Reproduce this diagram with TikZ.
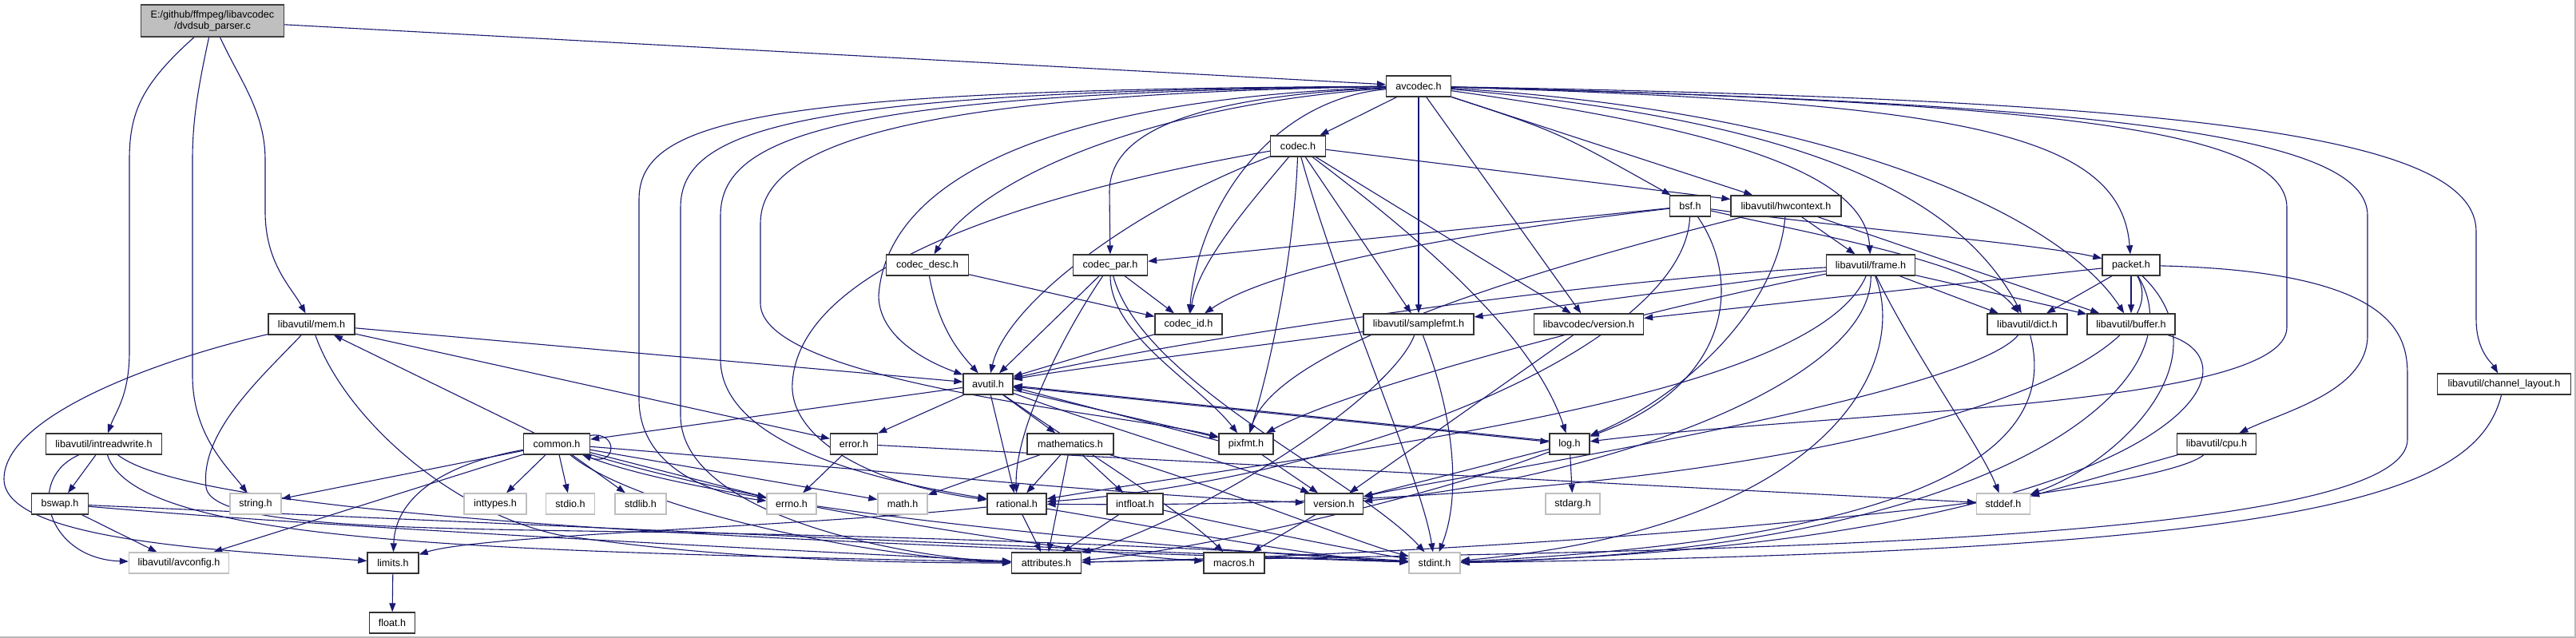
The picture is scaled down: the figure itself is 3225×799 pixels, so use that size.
\documentclass[tikz,border=0pt]{standalone}
\usepackage{fontspec}
\setmainfont{Liberation Sans}
\usetikzlibrary{arrows.meta}
\definecolor{edgecol}{HTML}{191970}
\definecolor{extcol}{HTML}{BFBFBF}
\definecolor{maincol}{HTML}{BFBFBF}
\pgfdeclarelayer{bg}
\pgfsetlayers{bg,main}
\begin{document}
\begin{tikzpicture}[x=1pt,y=-1pt,
  box/.style={draw=black!80, fill=white, line width=1.3pt, inner sep=0pt, minimum height=26pt,
     font=\fontsize{12.6}{14.5}\selectfont},
  docbox/.style={box},
  extbox/.style={box, draw=extcol},
  mainbox/.style={box, fill=maincol, draw=black!75, minimum height=40pt, align=center},
  edge/.style={draw=edgecol, line width=1.1pt, -{Triangle[length=11pt,width=8pt]}}]
\useasboundingbox (0,0) rectangle (3225,799);

% nodes
\node[mainbox, minimum width=179pt] (main) at (266,26) {E:/github/ffmpeg/libavcodec\\/dvdsub\_parser.c};
\node[docbox, minimum width=81pt] (avcodec) at (1776,108) {avcodec.h};
\node[docbox, minimum width=69pt] (codec) at (1625,183) {codec.h};
\node[docbox, minimum width=51pt] (bsf) at (2116,258) {bsf.h};
\node[docbox, minimum width=138pt] (hwcontext) at (2236,258) {libavutil/hwcontext.h};
\node[docbox, minimum width=103pt] (codecdesc) at (1161,332) {codec\_desc.h};
\node[docbox, minimum width=93pt] (codecpar) at (1390,332) {codec\_par.h};
\node[docbox, minimum width=111pt] (frame) at (2342,332) {libavutil/frame.h};
\node[docbox, minimum width=72pt] (packet) at (2668,332) {packet.h};
\node[docbox, minimum width=108pt] (mem) at (390,406) {libavutil/mem.h};
\node[docbox, minimum width=84pt] (codecid) at (1488,406) {codec\_id.h};
\node[docbox, minimum width=138pt] (samplefmt) at (1776,406) {libavutil/samplefmt.h};
\node[docbox, minimum width=137pt] (lavcver) at (1989,406) {libavcodec/version.h};
\node[docbox, minimum width=100pt] (dict) at (2538,406) {libavutil/dict.h};
\node[docbox, minimum width=110pt] (buffer) at (2668,406) {libavutil/buffer.h};
\node[docbox, minimum width=62pt] (avutil) at (1237,481) {avutil.h};
\node[docbox, minimum width=167pt] (chlayout) at (3135,481) {libavutil/channel\_layout.h};
\node[docbox, minimum width=145pt] (intreadwrite) at (130,556) {libavutil/intreadwrite.h};
\node[docbox, minimum width=83pt] (common) at (697,556) {common.h};
\node[docbox, minimum width=59pt] (error) at (1069,556) {error.h};
\node[docbox, minimum width=108pt] (mathematics) at (1340,556) {mathematics.h};
\node[docbox, minimum width=68pt] (pixfmt) at (1560,556) {pixfmt.h};
\node[docbox, minimum width=50pt] (log) at (1965,556) {log.h};
\node[docbox, minimum width=99pt] (cpu) at (2775,556) {libavutil/cpu.h};
\node[docbox, minimum width=71pt] (bswap) at (75,631) {bswap.h};
\node[extbox, minimum width=64pt] (string) at (320,631) {string.h};
\node[extbox, minimum width=78pt] (inttypes) at (620,631) {inttypes.h};
\node[extbox, minimum width=61pt] (stdio) at (714,631) {stdio.h};
\node[extbox, minimum width=64pt] (stdlib) at (802,631) {stdlib.h};
\node[extbox, minimum width=62pt] (errno) at (991,631) {errno.h};
\node[extbox, minimum width=62pt] (math) at (1130,631) {math.h};
\node[docbox, minimum width=74pt] (rational) at (1273,631) {rational.h};
\node[docbox, minimum width=70pt] (intfloat) at (1421,631) {intfloat.h};
\node[docbox, minimum width=73pt] (version) at (1670,631) {version.h};
\node[extbox, minimum width=68pt] (stdarg) at (1969,631) {stdarg.h};
\node[extbox, minimum width=67pt] (stddef) at (2508,631) {stddef.h};
\node[extbox, minimum width=125pt] (avconfig) at (224,705) {libavutil/avconfig.h};
\node[docbox, minimum width=64pt] (limits) at (492,705) {limits.h};
\node[docbox, minimum width=87pt] (attributes) at (1310,705) {attributes.h};
\node[docbox, minimum width=76pt] (macros) at (1545,705) {macros.h};
\node[extbox, minimum width=64pt] (stdint) at (1796,705) {stdint.h};
\node[docbox, minimum width=57pt] (float) at (491,780) {float.h};

\begin{pgfonlayer}{bg}
\fill[white] (0,0) rectangle (3225,799);
\draw[gray!55, line width=1.6pt] (0,798.2) -- (3224.2,798.2) -- (3224.2,0);
% main
\draw[edge] (main) -- (avcodec);
\draw[edge] (main) .. controls (178,105) and (162,140) .. (162,200) -- (162,440) .. controls (162,495) and (145,515) .. (intreadwrite);
\draw[edge] (main) .. controls (248,110) and (241,150) .. (241,200) -- (241,470) .. controls (241,545) and (285,585) .. (string);
\draw[edge] (main) .. controls (300,100) and (332,140) .. (332,200) -- (332,265) .. controls (332,330) and (365,360) .. (mem);
% avcodec
\draw[edge] (avcodec) -- (codec);
\draw[edge] (avcodec) -- (samplefmt);
\draw[edge] (avcodec) -- (lavcver);
\draw[edge] (avcodec) .. controls (1950,165) .. (bsf);
\draw[edge] (avcodec) -- (hwcontext);
\draw[edge] (avcodec) .. controls (2150,160) and (2335,215) .. (frame);
\draw[edge] (avcodec) .. controls (2450,128) and (2655,165) .. (packet);
\draw[edge] (avcodec) .. controls (2250,150) and (2450,240) .. (dict);
\draw[edge] (avcodec) .. controls (2300,140) and (2580,270) .. (buffer);
\draw[edge] (avcodec) .. controls (2550,128) and (2863,160) .. (2863,260) -- (2863,410) .. controls (2863,510) and (2300,515) .. (log);
\draw[edge] (avcodec) .. controls (2650,130) and (2964,170) .. (2964,270) -- (2964,420) .. controls (2964,490) and (2860,515) .. (cpu);
\draw[edge] (avcodec) .. controls (2750,125) and (3100,170) .. (3100,290) -- (3100,400) .. controls (3100,440) and (3120,455) .. (chlayout);
\draw[edge] (avcodec) .. controls (950,112) and (800,150) .. (800,250) -- (800,500) .. controls (800,590) and (900,620) .. (errno);
\draw[edge] (avcodec) .. controls (1000,114) and (852,160) .. (852,260) -- (852,520) .. controls (852,650) and (1150,700) .. (attributes);
\draw[edge] (avcodec) .. controls (1050,116) and (902,170) .. (902,270) -- (902,450) .. controls (902,570) and (1150,610) .. (rational);
\draw[edge] (avcodec) .. controls (1100,118) and (952,190) .. (952,280) -- (952,380) .. controls (952,480) and (1420,520) .. (pixfmt);
\draw[edge] (avcodec) .. controls (1450,130) and (1230,220) .. (codecdesc);
\draw[edge] (avcodec) .. controls (1480,122) and (1389,170) .. (1389,240) -- (codecpar);
\draw[edge] (avcodec) .. controls (1590,125) and (1500,260) .. (codecid);
\draw[edge] (avcodec) .. controls (1300,125) and (1110,230) .. (1100,370) .. controls (1100,430) and (1180,460) .. (avutil);
% codec
\draw[edge] (codec) -- (hwcontext);
\draw[edge] (codec) .. controls (1560,260) and (1500,330) .. (codecid);
\draw[edge] (codec) .. controls (1420,260) and (1260,380) .. (avutil);
\draw[edge] (codec) .. controls (1620,320) and (1590,460) .. (pixfmt);
\draw[edge] (codec) .. controls (1300,240) and (1000,330) .. (992,480) .. controls (988,545) and (1080,605) .. (rational);
\draw[edge] (codec) -- (samplefmt);
\draw[edge] (codec) -- (lavcver);
\draw[edge] (codec) .. controls (1780,300) and (1920,420) .. (log);
\draw[edge] (codec) .. controls (1680,380) and (1780,600) .. (stdint);
% bsf
\draw[edge] (bsf) -- (codecpar);
\draw[edge] (bsf) .. controls (1850,290) and (1600,330) .. (codecid);
\draw[edge] (bsf) .. controls (2110,430) and (1700,600) .. (rational);
\draw[edge] (bsf) .. controls (2180,350) and (2170,480) .. (log);
\draw[edge] (bsf) .. controls (2300,300) and (2480,330) .. (dict);
\draw[edge] (bsf) .. controls (2300,285) and (2550,305) .. (packet);
% hwcontext
\draw[edge] (hwcontext) -- (frame);
\draw[edge] (hwcontext) -- (buffer);
\draw[edge] (hwcontext) .. controls (1950,330) and (1600,430) .. (pixfmt);
\draw[edge] (hwcontext) .. controls (2225,390) and (2100,500) .. (log);
% codec_desc, codec_par, codec_id
\draw[edge] (codecdesc) .. controls (1175,410) and (1200,440) .. (avutil);
\draw[edge] (codecdesc) -- (codecid);
\draw[edge] (codecpar) -- (codecid);
\draw[edge] (codecpar) -- (avutil);
\draw[edge] (codecpar) .. controls (1330,420) and (1270,540) .. (rational);
\draw[edge] (codecpar) .. controls (1390,420) and (1500,480) .. (pixfmt);
\draw[edge] (codecpar) .. controls (1430,480) and (1700,600) .. (stdint);
\draw[edge] (codecid) -- (avutil);
% frame
\draw[edge] (frame) .. controls (2000,350) and (1500,420) .. (avutil);
\draw[edge] (frame) -- (buffer);
\draw[edge] (frame) -- (dict);
\draw[edge] (frame) .. controls (2270,500) and (1700,560) .. (rational);
\draw[edge] (frame) -- (samplefmt);
\draw[edge] (frame) .. controls (2100,380) and (1700,480) .. (pixfmt);
\draw[edge] (frame) .. controls (2344,480) and (2000,600) .. (version);
\draw[edge] (frame) .. controls (2400,450) and (2480,560) .. (stddef);
\draw[edge] (frame) .. controls (2390,450) and (2300,660) .. (stdint);
% packet
\draw[edge] (packet) -- (buffer);
\draw[edge] (packet) -- (dict);
\draw[edge] (packet) -- (lavcver);
\draw[edge] (packet) .. controls (2790,450) and (2650,580) .. (stddef);
\draw[edge] (packet) .. controls (2760,480) and (2500,690) .. (stdint);
\draw[edge] (packet) .. controls (2740,460) and (2300,640) .. (rational);
\draw[edge] (packet) .. controls (3000,340) and (3014,420) .. (3014,470) -- (3014,550) .. controls (3014,690) and (2000,690) .. (attributes);
% mem
\draw[edge] (mem) -- (avutil);
\draw[edge] (mem) -- (error);
\draw[edge] (mem) .. controls (200,450) and (5,520) .. (5,600) .. controls (5,680) and (300,690) .. (limits);
\draw[edge] (mem) .. controls (330,470) and (250,540) .. (258,610) .. controls (265,670) and (600,660) .. (1000,670) .. controls (1400,680) and (1650,695) .. (stdint);
\draw[edge] (mem) .. controls (430,520) and (560,640) .. (700,670) .. controls (900,700) and (1100,705) .. (attributes);
% common
\draw[edge] (common) -- (mem);
\draw[edge] (common) -- (string);
\draw[edge] (common) -- (inttypes);
\draw[edge] (common) -- (stdio);
\draw[edge] (common) -- (stdlib);
\draw[edge] (common) -- (errno);
\draw[edge] (common) -- (math);
\draw[edge] (common) .. controls (560,580) and (495,620) .. (limits);
\draw[edge] (common) -- (avconfig);
\draw[edge] (common) .. controls (800,640) and (1100,700) .. (attributes);
\draw[edge] (common) .. controls (900,620) and (1300,690) .. (macros);
\draw[edge] (common) .. controls (900,640) and (1500,690) .. (stdint);
\draw[edge] (common) .. controls (1000,580) and (1400,620) .. (version);
\draw[edge] ([yshift=-3pt]common.north east) .. controls (775,540) and (772,585) .. ([xshift=-10pt]common.south east);
% error
\draw[edge] (error) -- (errno);
\draw[edge] (error) -- (stddef);
% avutil
\draw[edge] (avutil) -- (common);
\draw[edge] (avutil) -- (error);
\draw[edge] (avutil) -- (mathematics);
\draw[edge] (avutil) -- (rational);
\draw[edge] (avutil) -- (log);
\draw[edge] (avutil) .. controls (1400,540) and (1600,600) .. (version);
\draw[edge] (avutil) .. controls (1350,560) and (1480,640) .. (macros);
\draw[edge] (avutil) -- (pixfmt);
% pixfmt
\draw[edge] ([yshift=4pt]pixfmt.west) -- ([yshift=-4pt]avutil.east);
\draw[edge] (pixfmt) -- (version);
% log
\draw[edge] (log) -- (stdarg);
\draw[edge] ([yshift=4pt]log.west) -- ([yshift=-2pt]avutil.east);
\draw[edge] (log) .. controls (1800,620) and (1500,690) .. (attributes);
\draw[edge] (log) -- (version);
% mathematics
\draw[edge] (mathematics) -- (math);
\draw[edge] (mathematics) -- (rational);
\draw[edge] (mathematics) -- (attributes);
\draw[edge] (mathematics) -- (intfloat);
\draw[edge] (mathematics) .. controls (1500,600) and (1700,680) .. (stdint);
% rational
\draw[edge] (rational) -- (attributes);
\draw[edge] (rational) .. controls (1450,660) and (1650,700) .. (stdint);
\draw[edge] (rational) .. controls (1000,660) and (600,670) .. (limits);
% intfloat
\draw[edge] (intfloat) -- (attributes);
\draw[edge] (intfloat) .. controls (1550,660) and (1700,690) .. (stdint);
% version
\draw[edge] (version) -- (macros);
\draw[edge] (lavcver) -- (version);
% samplefmt
\draw[edge] (samplefmt) .. controls (1820,520) and (1830,620) .. (stdint);
\draw[edge] (samplefmt) .. controls (1600,430) and (1350,460) .. (avutil);
\draw[edge] (samplefmt) .. controls (1740,500) and (1500,650) .. (attributes);
% dict, buffer, cpu, chlayout
\draw[edge] (dict) .. controls (2460,500) and (1800,600) .. (version);
\draw[edge] (dict) .. controls (2590,600) and (2300,680) .. (stdint);
\draw[edge] (buffer) .. controls (2850,460) and (2700,680) .. (stdint);
\draw[edge] (cpu) -- (stddef);
\draw[edge] (cpu) .. controls (2700,620) and (2000,690) .. (attributes);
\draw[edge] (chlayout) .. controls (3100,620) and (2900,690) .. (stdint);
% intreadwrite, bswap
\draw[edge] (intreadwrite) -- (bswap);
\draw[edge] (intreadwrite) .. controls (30,600) and (60,700) .. (avconfig);
\draw[edge] (intreadwrite) .. controls (170,680) and (600,690) .. (attributes);
\draw[edge] (intreadwrite) .. controls (250,650) and (1000,680) .. (stdint);
\draw[edge] (bswap) -- (avconfig);
\draw[edge] (bswap) .. controls (400,660) and (1000,690) .. (attributes);
\draw[edge] (bswap) .. controls (500,650) and (1400,690) .. (stdint);
% limits
\draw[edge] (limits) -- (float);
\end{pgfonlayer}
\end{tikzpicture}
\end{document}
